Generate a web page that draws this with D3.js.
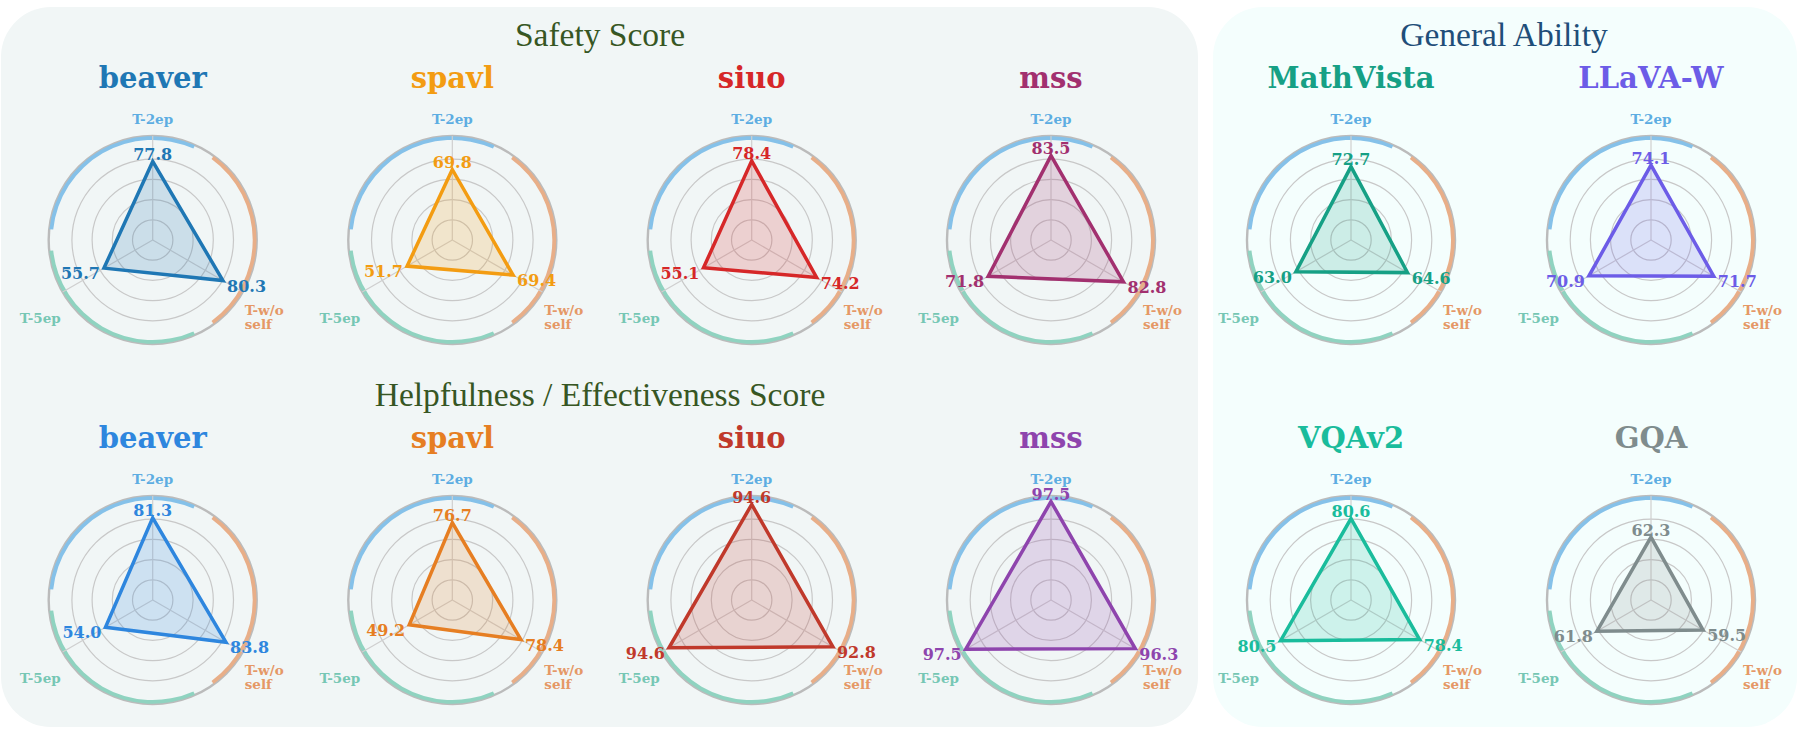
<!DOCTYPE html>
<html><head><meta charset="utf-8">
<script src="https://cdn.jsdelivr.net/npm/d3@7"></script>
<style>body{margin:0;background:#ffffff}</style>
</head><body>
<svg id="chart" width="1800" height="729"></svg>
<script>
// ---- data ----
const axisLabels = ["T-2ep", "T-w/o self", "T-5ep"];
const safetyNames = ["beaver", "spavl", "siuo", "mss"];
const safetyValues = [[77.8, 80.3, 55.7], [69.8, 69.4, 51.7], [78.4, 74.2, 55.1], [83.5, 82.8, 71.8]];
const safetyColors = ["#1f77b4", "#f39c12", "#d62728", "#a2306f"];
const helpNames = ["beaver", "spavl", "siuo", "mss"];
const helpValues = [[81.3, 83.8, 54.0], [76.7, 78.4, 49.2], [94.6, 92.8, 94.6], [97.5, 96.3, 97.5]];
const helpColors = ["#2e86de", "#e67e22", "#c0392b", "#8e44ad"];
const generalNames = ["MathVista", "LLaVA-W", "VQAv2", "GQA"];
const generalValues = [[72.7, 64.6, 63.0], [74.1, 71.7, 70.9], [80.6, 78.4, 80.5], [62.3, 59.5, 61.8]];
const generalColors = ["#16a085", "#6c5ce7", "#1abc9c", "#7f8c8d"];
const gridTicks = [20, 40, 60, 80];
const sectionTitles = ["Safety Score", "Helpfulness / Effectiveness Score", "General Ability"];
const axisColors = ["#5dade2", "#e59866", "#76c7b4"];
const arcColors = ["#85c1e9", "#e8ae88", "#8fd3c0"];

// ---- layout ----
const svg = d3.select("#chart");
const rScale = d3.scaleLinear().domain([0, 100]).range([0, 101]);
const rMax = 103;
const aScale = d3.scaleLinear().domain([0, axisLabels.length]).range([0, 2 * Math.PI]);
const deg = Math.PI / 180;

// panels
svg.append("rect").attr("x", 1).attr("y", 7).attr("width", 1197).attr("height", 720)
  .attr("rx", 50).attr("fill", "#f1f6f6");
svg.append("rect").attr("x", 1213).attr("y", 7).attr("width", 584).attr("height", 720)
  .attr("rx", 50).attr("fill", "#f4fefd");

const secTitle = (t, x, y, c) => svg.append("text").attr("x", x).attr("y", y)
  .attr("text-anchor", "middle").attr("dominant-baseline", "central")
  .style("font-family", "'Liberation Serif', serif").style("font-size", "33.5px")
  .attr("fill", c).text(t);
secTitle(sectionTitles[0], 600, 34, "#375623");
secTitle(sectionTitles[1], 600, 394, "#375623");
secTitle(sectionTitles[2], 1504, 34, "#1f4e79");

function radar(cx, cy, name, vals, color) {
  const g = svg.append("g").attr("transform", `translate(${cx},${cy})`);
  // title
  g.append("text").attr("x", 0).attr("y", -162).attr("text-anchor", "middle")
    .attr("dominant-baseline", "central")
    .style("font-family", "'DejaVu Serif', serif").style("font-weight", "bold")
    .style("font-size", "29px").attr("fill", color).text(name);
  // grid circles
  gridTicks.forEach(t => g.append("circle").attr("r", rScale(t)).attr("fill", "none")
    .attr("stroke", "#c8c8c8").attr("stroke-width", 1.2));
  // outer spine
  g.append("circle").attr("r", rScale(rMax)).attr("fill", "none")
    .attr("stroke", "#bbbbbb").attr("stroke-width", 2.4);
  // coloured arcs
  const arcGen = d3.arc().innerRadius(rScale(rMax) - 4).outerRadius(rScale(rMax) - 0.2);
  axisLabels.forEach((lab, i) => {
    const a = aScale(i);
    g.append("path").attr("d", arcGen({startAngle: a - 84 * deg, endAngle: a + 24 * deg}))
      .attr("fill", arcColors[i]);
  });
  // spokes
  axisLabels.forEach((lab, i) => {
    const a = aScale(i), R = rScale(rMax);
    g.append("line").attr("x1", 0).attr("y1", 0)
      .attr("x2", R * Math.sin(a)).attr("y2", -R * Math.cos(a))
      .attr("stroke", "#cfcfcf").attr("stroke-width", 1.2);
  });
  // polygon
  const line = d3.lineRadial().angle((d, i) => aScale(i)).radius(d => rScale(d))
    .curve(d3.curveLinearClosed);
  g.append("path").attr("d", line(vals)).attr("fill", color).attr("fill-opacity", 0.18)
    .attr("stroke", color).attr("stroke-width", 3.5).attr("stroke-linejoin", "miter");
  // value labels
  vals.forEach((v, i) => {
    const a = aScale(i), r = rScale(v + 7);
    const x = r * Math.sin(a), y = -r * Math.cos(a);
    const anchor = i === 0 ? "middle" : (i === 1 ? "start" : "end");
    g.append("text").attr("x", i === 1 ? x - 2 : (i === 2 ? x + 2 : x)).attr("y", i === 0 ? y : y + 2)
      .attr("text-anchor", anchor).attr("dominant-baseline", "central")
      .style("font-family", "'DejaVu Serif', serif").style("font-weight", "bold")
      .style("font-size", "16px").attr("fill", color).text(v.toFixed(1));
  });
  // axis labels
  const lf = (t) => t.style("font-family", "'DejaVu Serif', serif").style("font-weight", "bold")
    .style("font-size", "13.5px");
  lf(g.append("text").attr("x", 0).attr("y", -121).attr("text-anchor", "middle")
    .attr("dominant-baseline", "central").attr("fill", axisColors[0]).text(axisLabels[0]));
  const parts = axisLabels[1].split(" ");
  const t1 = lf(g.append("text").attr("x", 92).attr("y", 70).attr("text-anchor", "start")
    .attr("dominant-baseline", "central").attr("fill", axisColors[1]));
  parts.forEach((p, k) => t1.append("tspan").attr("x", 92).attr("dy", k === 0 ? 0 : 14).text(p));
  lf(g.append("text").attr("x", -92).attr("y", 78).attr("text-anchor", "end")
    .attr("dominant-baseline", "central").attr("fill", axisColors[2]).text(axisLabels[2]));
}

const leftX = [152.7, 452.3, 751.7, 1051];
const rightX = [1351, 1651];
const rowY = [240, 600];
safetyNames.forEach((n, i) => radar(leftX[i], rowY[0], n, safetyValues[i], safetyColors[i]));
helpNames.forEach((n, i) => radar(leftX[i], rowY[1], n, helpValues[i], helpColors[i]));
generalNames.forEach((n, i) => radar(rightX[i % 2], rowY[Math.floor(i / 2)], n, generalValues[i], generalColors[i]));
</script>
</body></html>
